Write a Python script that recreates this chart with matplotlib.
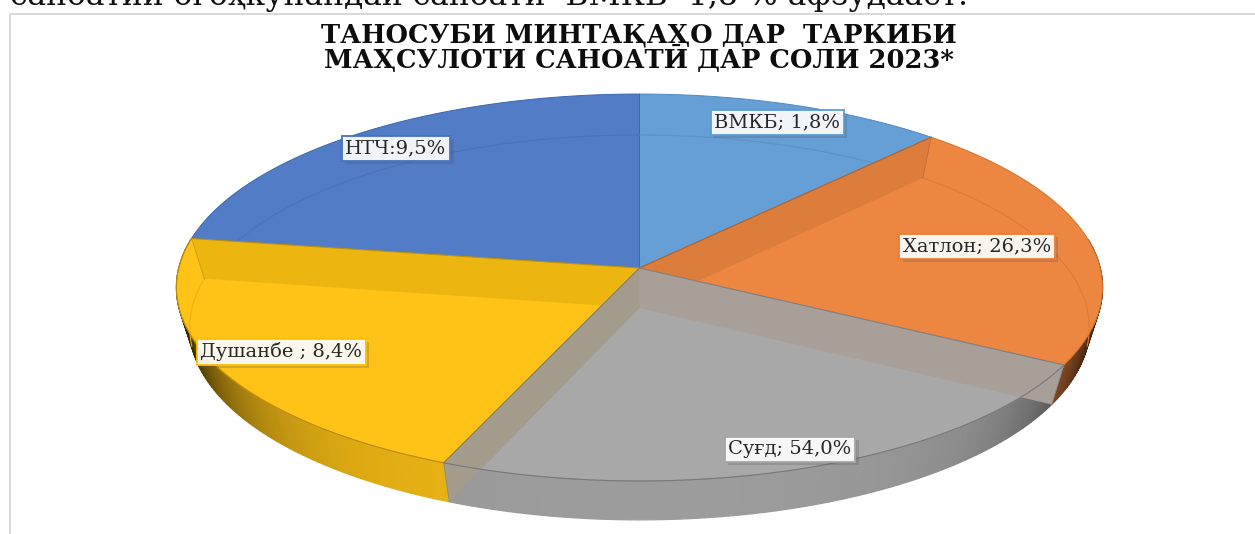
import numpy as np
import matplotlib
matplotlib.use("Agg")
import matplotlib.pyplot as plt
import matplotlib.patheffects as pe
from matplotlib.colors import to_rgb

# ---- data ----
regions = ["ВМКБ", "Хатлон", "Суғд", "Душанбе", "НТЧ"]
drawn_shares = [11.9, 21.1, 23.3, 21.2, 22.5]   # share of the circle each slice occupies as drawn
label_texts = ["ВМКБ; 1,8%", "Хатлон; 26,3%", "Суғд; 54,0%", "Душанбе ; 8,4%", "НТЧ:9,5%"]
label_centres = [(777, 122), (977, 246), (790, 449), (281, 351.5), (396, 148.5)]
top_colors = ["#659FD6", "#EC8640", "#A8A8A8", "#FEC316", "#527DC6"]
edge_colors = ["#5B9BD5", "#ED7D31", "#A5A5A5", "#FFC000", "#4472C4"]
title_lines = "ТАНОСУБИ МИНТАҚАҲО ДАР  ТАРКИБИ\nМАҲСУЛОТИ САНОАТӢ ДАР СОЛИ 2023*"
clipped_sentence = "саноатии огоҳкунандаи саноатӣ  ВМКБ  1,8 % афзудааст."

# ---- perspective disc ----
K = 0.1008
TOP = dict(x0=639.5, y0=268.0, A=460.7, a=191.5)
BOT = dict(x0=639.5, y0=308.0, A=447.5, a=190.5)


def project(theta, disc):
    """theta in radians clockwise from the back of the disc -> pixel coordinates."""
    u, v = np.sin(theta), np.cos(theta)
    w = 1 + K * v
    return disc["x0"] + disc["A"] * u / w, disc["y0"] - disc["a"] * v / w


def shade(rgb, f):
    return tuple(np.clip(np.array(rgb) * f, 0, 1))


fig = plt.figure(figsize=(12.55, 5.34), dpi=100, facecolor="white")
ax = fig.add_axes([0, 0, 1, 1])
ax.set_xlim(0, 1255)
ax.set_ylim(534, 0)
ax.axis("off")

edges = np.radians(np.concatenate([[0], np.cumsum(drawn_shares)]) * 3.6)
spans = list(zip(edges[:-1], edges[1:]))

# frame of the chart object
ax.plot([10, 10, 1255], [534, 13.5, 13.5], color="#D9D9D9", lw=1.4, zorder=1)

# outer side wall: strips with a shade that darkens towards the sides
for (t0, t1), col in zip(spans, top_colors):
    ts = np.linspace(t0, t1, 90)
    for a, b in zip(ts[:-1], ts[1:]):
        if np.cos((a + b) / 2) > 0.15:
            continue
        xa, ya = project(np.array([a, b]), TOP)
        xb, yb = project(np.array([b, a]), BOT)
        s = abs(np.sin((a + b) / 2))
        f = 0.93 - 0.68 * s ** 6 - 0.12 * s ** 2
        c = shade(to_rgb(col), f)
        ax.fill(np.r_[xa, xb], np.r_[ya, yb], facecolor=c, edgecolor=c, lw=0.9, zorder=2)

# top face wedges
for (t0, t1), col, ec in zip(spans, top_colors, edge_colors):
    ts = np.linspace(t0, t1, 200)
    x, y = project(ts, TOP)
    ax.fill(np.r_[TOP["x0"], x], np.r_[TOP["y0"], y], facecolor=col,
            edgecolor=shade(to_rgb(ec), 0.9), lw=0.7, zorder=3)

# far rim of the lower disc, seen through the top face
for (t0, t1), col in zip(spans, top_colors):
    ts = np.linspace(t0, t1, 200)
    ts = ts[np.cos(ts) > -0.2]
    if len(ts):
        x, y = project(ts, BOT)
        ax.plot(x, y, color=shade(to_rgb(col), 0.92), lw=0.8, zorder=3.5)

# radial walls seen through the translucent slices, gray ones in front
wall_at = [edges[1], edges[4], edges[2], edges[3]]
wall_col = ["#DC7D3C", "#ECB510", "#A89F98", "#A39C8C"]
for z, (t, col) in enumerate(zip(wall_at, wall_col)):
    xt, yt = project(np.array([t]), TOP)
    xb, yb = project(np.array([t]), BOT)
    zw = 4 + z * 0.1
    ax.fill([TOP["x0"], xt[0], xb[0], BOT["x0"]],
            [TOP["y0"], yt[0], yb[0], BOT["y0"]],
            facecolor=col, edgecolor="none", zorder=zw)
    ax.plot([TOP["x0"], xt[0]], [TOP["y0"], yt[0]],
            color=shade(to_rgb(col), 0.8), lw=0.8, zorder=zw + 0.01)
    ax.plot([xt[0], xb[0]], [yt[0], yb[0]],
            color=shade(to_rgb(col), 0.88), lw=0.6, zorder=zw + 0.01)

# near rim of the top face over the gray and yellow slices
for i in (2, 3):
    ts = np.linspace(*spans[i], 200)
    x, y = project(ts, TOP)
    ax.plot(x, y, color=shade(to_rgb(top_colors[i]), 0.72), lw=0.8, zorder=5)

# data labels
for txt, (cx, cy), ec in zip(label_texts, label_centres, edge_colors):
    ax.text(cx, cy, txt, ha="center", va="center", family="DejaVu Serif",
            fontsize=14, color="#262626", zorder=8,
            bbox=dict(boxstyle="square,pad=0.18", facecolor="#FFFFFF", alpha=0.92,
                      edgecolor=ec, lw=1.4,
                      path_effects=[pe.SimplePatchShadow(offset=(2.5, -2.5), alpha=0.25,
                                                         shadow_rgbFace="#555555"),
                                    pe.Normal()]))

# title
ax.text(639, 48, title_lines, ha="center", va="center", family="DejaVu Serif",
        weight="bold", fontsize=18.5, color="#0D0D0D", linespacing=0.9, zorder=8)

# sentence of the surrounding page, cut by the image edge
ax.text(10, 5, clipped_sentence, ha="left", va="baseline", family="DejaVu Serif",
        fontsize=22.6, color="#111111", zorder=8, clip_on=False)

fig.savefig("out.png", dpi=100, facecolor="white")
